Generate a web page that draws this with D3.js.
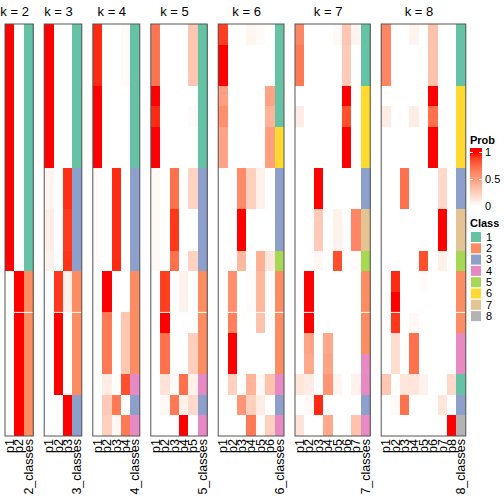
<!DOCTYPE html>
<html><head><meta charset="utf-8">
<script src="https://cdn.jsdelivr.net/npm/d3@7/dist/d3.min.js"></script>
<style>body{margin:0;background:#fff}svg{display:block}text{font-family:"Liberation Sans",Arial,Helvetica,sans-serif}</style>
</head><body>
<svg id="c" width="504" height="504"></svg>
<script>
// ---------- data ----------
const kValues = [2, 3, 4, 5, 6, 7, 8];
const classLabels = ["1", "2", "3", "4", "5", "6", "7", "8"];
const classColors = ["#66C2A5", "#FC8D62", "#8DA0CB", "#E78AC3", "#A6D854", "#FFD92F", "#E5C494", "#B3B3B3"];
const probTicks = [0, 0.5, 1];
const probTickLabels = ["0", "0.5", "1"];

const prob2 = [
  [1,0],[1,0],[1,0],[1,0],[1,0],[1,0],[1,0],[1,0],[1,0],[1,0],[1,0],[1,0],
  [0,1],[0,1],[0,1],[0,1],[0,1],[0,1],[0,1],[0,1]];
const class2 = [1,1,1,1,1,1,1,1,1,1,1,1,2,2,2,2,2,2,2,2];

const prob3 = [
  [1,0,0],[1,0,0],[1,0,0],[1,0,0],[1,0,0],[1,0,0],[1,0,0],
  [0.06,0,0.94],[0.06,0,0.94],[0.09,0,0.91],[0.09,0,0.91],[0.07,0,0.93],
  [0,0.92,0.08],[0,0.92,0.08],
  [0,1,0],[0,1,0],[0,1,0],[0,1,0],
  [0,0,1],[0,0,1]];
const class3 = [1,1,1,1,1,1,1,3,3,3,3,3,2,2,2,2,2,2,3,3];

const prob4 = [
  [0.95,0,0,0.03],[0.95,0,0,0.03],[0.95,0,0,0.03],
  [1,0,0,0],[1,0,0,0],[1,0,0,0],[1,0,0,0],
  [0.02,0,0.95,0],[0.02,0,0.95,0],[0.02,0,0.95,0],[0.02,0,0.95,0],[0.02,0,0.95,0],
  [0,1,0,0],[0,1,0,0],
  [0,0.68,0,0.3],[0,0.68,0,0.3],[0,0.68,0,0.3],
  [0,0.1,0,0.85],
  [0,0.28,0.68,0],
  [0,0.25,0.04,0.68]];
const class4 = [1,1,1,1,1,1,1,3,3,3,3,3,2,2,2,2,2,4,3,4];

const prob5 = [
  [0.7,0,0,0,0.3],[0.7,0,0,0,0.3],[0.7,0,0,0,0.3],
  [1,0,0,0,0],[0.95,0,0,0,0.02],[1,0,0,0,0],[1,0,0,0,0],
  [0.04,0,0.72,0,0.24],[0.04,0,0.72,0,0.24],
  [0.04,0,0.92,0,0],[0.04,0,0.92,0,0],
  [0.04,0,0.72,0,0.24],
  [0,0.9,0,0.07,0],[0,0.9,0,0.07,0],
  [0,1,0,0,0],
  [0,0.72,0,0,0.25],[0,0.72,0,0,0.25],
  [0,0.15,0.03,0.72,0.08],
  [0,0.04,0.68,0.08,0.2],
  [0,0,0,1,0]];
const class5 = [1,1,1,1,1,1,1,3,3,3,3,3,2,2,2,2,2,4,3,4];

const prob6 = [
  [0.9,0,0,0.05,0.03,0],
  [1,0,0,0,0,0],[1,0,0,0,0,0],
  [0.5,0,0,0,0,0.48],
  [0.58,0,0,0,0,0.4],
  [0.48,0,0,0,0,0.5],[0.48,0,0,0,0,0.5],
  [0,0,0.6,0.25,0.08,0],[0,0,0.6,0.25,0.08,0],
  [0,0,1,0,0,0],[0,0,1,0,0,0],
  [0,0,0.38,0,0.42,0.13],
  [0,0.58,0,0.02,0.38,0],[0,0.58,0,0.02,0.38,0],
  [0,0.65,0,0,0.32,0],
  [0,1,0,0,0,0],[0,1,0,0,0,0],
  [0,0.25,0,0.4,0.04,0.32],
  [0,0,0.55,0.25,0.1,0],
  [0,0,0,0.68,0.02,0.25]];
const class6 = [1,1,1,1,1,6,6,3,3,3,3,5,2,2,2,2,2,4,3,4];

const prob7 = [
  [0.62,0,0,0,0.03,0.3,0.06],
  [0.68,0,0,0,0,0.28,0],[0.68,0,0,0,0,0.28,0],
  [0,0,0,0,0,1,0],
  [0.1,0,0,0,0,0.85,0],
  [0,0,0,0,0,1,0],[0,0,0,0,0,1,0],
  [0,0,1,0,0,0,0],[0,0,1,0,0,0,0],
  [0,0,0.28,0,0.07,0,0.62],[0,0,0.28,0,0.07,0,0.62],
  [0,0,0.04,0,0.85,0,0.02],
  [0,1,0,0,0,0,0],[0,1,0,0,0,0,0],[0,1,0,0,0,0,0],
  [0,0.48,0,0.45,0,0,0],
  [0,0.45,0,0.48,0,0,0],
  [0.14,0.1,0,0.55,0.06,0,0.07],
  [0,0.03,0.95,0,0,0,0],
  [0.15,0,0,0.45,0,0,0.32]];
const class7 = [1,1,1,6,6,6,6,3,3,7,7,5,2,2,2,2,4,4,3,4];

const prob8 = [
  [0.62,0,0,0.06,0,0.32,0,0],
  [0.62,0,0,0,0,0.32,0,0],[0.62,0,0,0,0,0.32,0,0],
  [0,0,0,0,0,1,0,0],
  [0.1,0,0,0.1,0,0.72,0,0],
  [0,0,0,0,0,1,0,0],[0,0,0,0,0,1,0,0],
  [0,0,0.72,0,0,0,0.2,0],[0,0,0.72,0,0,0,0.2,0],
  [0,0,0,0,0,0,1,0],[0,0,0,0,0,0,1,0],
  [0,0,0,0,0.85,0,0.08,0],
  [0,0.95,0,0,0.02,0,0,0],
  [0,1,0,0,0,0,0,0],
  [0,0.92,0,0.04,0,0,0,0],
  [0,0.18,0,0.72,0,0,0,0],[0,0.18,0,0.72,0,0,0,0],
  [0.3,0,0.14,0.14,0.07,0,0,0.2],
  [0,0.03,0.72,0,0,0,0.14,0],
  [0,0,0,0,0,0,0,1]];
const class8 = [1,1,1,6,6,6,6,3,3,7,7,5,2,2,2,4,4,1,3,8];

const probList = [prob2, prob3, prob4, prob5, prob6, prob7, prob8];
const classList = [class2, class3, class4, class5, class6, class7, class8];

// ---------- drawing ----------
const svg = d3.select("#c");
const nRows = class2.length;
const y = d3.scaleBand().domain(d3.range(nRows)).range([24, 436]);
const probColor = d3.scaleLinear().domain([0, 1]).range(["#FFFFFF", "#FF0000"]).interpolate(d3.interpolateLab);
const classColor = d3.scaleOrdinal().domain(d3.range(1, 9)).range(classColors);

const colW = 9.4, gap = 11;
let x0 = 5;
kValues.forEach((k, pi) => {
  const cols = d3.range(1, k + 1).map(i => "p" + i).concat([k + "_classes"]);
  const w = cols.length * colW;
  const x = d3.scaleBand().domain(cols).range([x0, x0 + w]);
  const g = svg.append("g");
  const probs = probList[pi], cls = classList[pi];
  const cells = [];
  probs.forEach((row, r) => {
    row.forEach((v, c) => cells.push({r, col: cols[c], fill: probColor(v)}));
    cells.push({r, col: cols[k], fill: classColor(cls[r])});
  });
  g.selectAll("rect.cell").data(cells).join("rect")
    .attr("x", d => x(d.col)).attr("y", d => y(d.r))
    .attr("width", x.bandwidth() + 0.4).attr("height", y.bandwidth() + 0.4)
    .attr("fill", d => d.fill).attr("shape-rendering", "crispEdges");
  if (k !== 4) {
    g.append("line").attr("x1", x0).attr("x2", x0 + w)
      .attr("y1", y(14)).attr("y2", y(14))
      .attr("stroke", "#fff").attr("stroke-width", 1);
  }
  g.append("rect").attr("x", x0).attr("y", 24).attr("width", w).attr("height", 412)
    .attr("fill", "none").attr("stroke", "#555").attr("stroke-width", 1);
  g.append("text").attr("x", x0 + w / 2 - 4.5).attr("y", 16)
    .attr("text-anchor", "middle").attr("font-size", 13).text("k = " + k);
  g.selectAll("text.lab").data(cols).join("text")
    .attr("transform", d => `translate(${x(d) + x.bandwidth() / 2},439) rotate(-90)`)
    .attr("text-anchor", "end").attr("dy", "0.35em").attr("font-size", 12.5).text(d => d);
  x0 += w + gap;
});

// Prob legend
const lg = svg.append("g");
lg.append("text").attr("x", 470).attr("y", 144).attr("font-size", 11).attr("font-weight", "bold").text("Prob");
const ly = d3.scaleLinear().domain([0, 1]).range([206.5, 152.5]);
const defs = svg.append("defs");
const grad = defs.append("linearGradient").attr("id", "pg").attr("x1", 0).attr("y1", 1).attr("x2", 0).attr("y2", 0);
const barTop = 148, barBot = 211;
d3.range(0, 1.0001, 0.1).forEach(v => {
  grad.append("stop").attr("offset", (barBot - ly(v)) / (barBot - barTop)).attr("stop-color", probColor(v));
});
lg.append("rect").attr("x", 470).attr("y", barTop).attr("width", 12).attr("height", barBot - barTop).attr("fill", "url(#pg)");
probTicks.forEach((t, i) => {
  lg.append("line").attr("x1", 470).attr("x2", 473).attr("y1", ly(t)).attr("y2", ly(t)).attr("stroke", "#fff");
  lg.append("line").attr("x1", 479).attr("x2", 482).attr("y1", ly(t)).attr("y2", ly(t)).attr("stroke", "#fff");
  lg.append("text").attr("x", 485).attr("y", ly(t)).attr("dy", "0.35em").attr("font-size", 11).text(probTickLabels[i]);
});

// Class legend
lg.append("text").attr("x", 470).attr("y", 227).attr("font-size", 11).attr("font-weight", "bold").text("Class");
const cy = d3.scaleBand().domain(classLabels).range([232, 232 + 11.3 * 8]);
lg.selectAll("rect.cl").data(classLabels).join("rect")
  .attr("x", 471).attr("y", d => cy(d)).attr("width", 10).attr("height", 10)
  .attr("fill", (d, i) => classColors[i]);
lg.selectAll("text.cl").data(classLabels).join("text")
  .attr("x", 486).attr("y", d => cy(d) + 5).attr("dy", "0.35em").attr("font-size", 11).text(d => d);
</script>
</body></html>
